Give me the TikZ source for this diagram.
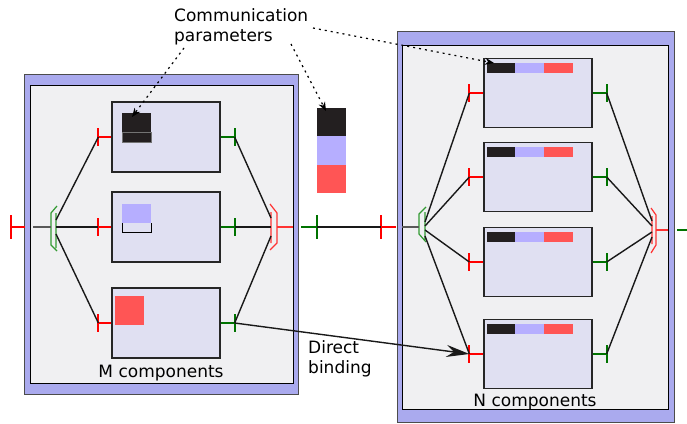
\documentclass[tikz,border=0pt]{standalone}
\usepackage{fontspec}
\setmainfont{DejaVu Sans}
\usetikzlibrary{positioning}
\usetikzlibrary{arrows.meta}
\definecolor{frameblue}{RGB}{170,170,238}
\definecolor{innergray}{RGB}{240,240,242}
\definecolor{compfill}{RGB}{224,224,242}
\definecolor{parblack}{RGB}{35,31,32}
\definecolor{parblue}{RGB}{182,174,255}
\definecolor{parred}{RGB}{255,85,85}
\definecolor{portred}{RGB}{255,0,0}
\definecolor{portgreen}{RGB}{0,128,0}

\begin{document}
\begin{tikzpicture}[x=1pt,y=-1pt,
  font=\fontsize{17}{20}\selectfont,
  frame/.style={draw=black!70, line width=0.8pt, fill=frameblue, inner sep=0pt},
  inner/.style={draw=black, line width=1pt, fill=innergray, inner sep=0pt},
  comp/.style={draw=black!85, line width=1.3pt, fill=compfill, minimum width=108pt, minimum height=70pt, inner sep=0pt},
  wire/.style={black!90, line width=1.4pt},
  rport/.style={portred, line width=2pt},
  gport/.style={portgreen!90!black, line width=2pt},
  fork/.style={line width=1.2pt},
  param/.style={dash pattern=on 2pt off 4pt, line width=1.2pt, -{Stealth[length=9pt,width=7pt]}},
]
\useasboundingbox (0,0) rectangle (687,423);

% M side
\node[frame, minimum width=274pt, minimum height=320pt] (mframe) at (161,234) {};
\node[inner, minimum width=263pt, minimum height=298pt] (mbox) at (161.5,234) {};
\node[comp] (m1) at (166,137) {};
\node[comp] (m2) at (166,227) {};
\node[comp] (m3) at (166,323) {};
\foreach \c in {m1,m2,m3} {
  \draw[rport] (\c.west) -- ++(-13,0) coordinate (\c-in) ++(0,-9) -- ++(0,18);
  \draw[gport] (\c.east) -- ++(14,0) coordinate (\c-out) ++(0,-9) -- ++(0,18);
}
% parameter squares
\fill[parblack] (122,113) rectangle (151,142);
\draw[black!55, line width=0.8pt] (122,132) rectangle (151,142);
\fill[parblue] (122,204) rectangle (151,223);
\draw[black, line width=1pt] (122,223) -- (122,232) -- (151,232) -- (151,223);
\fill[parred] (115,296) rectangle (144,325);

% M fork and join
\coordinate (msplit) at (56,227);
\coordinate (mjoin) at (271,227);
\draw[portgreen!80, fork] (57,206) -- (51,213) -- (51,245) -- (57,251) (56,213) -- (56,248);
\draw[portred!80, fork] (270,204) -- (277,213) -- (277,243) -- (270,250) (271,212) -- (271,243);
\draw[wire] ([yshift=7pt]msplit) -- (m1-in);
\draw[wire] (msplit) -- (m2-in);
\draw[wire] ([yshift=-7pt]msplit) -- (m3-in);
\draw[wire] (m1-out) -- ([yshift=9pt]mjoin);
\draw[wire] (m2-out) -- (mjoin);
\draw[wire] (m3-out) -- ([yshift=-9pt]mjoin);
\draw[rport] (25,227) -- (11,227) coordinate (min) ++(0,-12) -- ++(0,24);
\draw[black!65, line width=1.2pt] (33,227) -- (51,227);
\draw[portred!80, line width=1.6pt] (277,227) -- (293,227);

% between the two
\draw[gport] (301,227) -- (317,227) coordinate (mout) ++(0,-12) -- ++(0,24);
\draw[rport] (396,227) -- (381,227) coordinate (nin) ++(0,-12) -- ++(0,24);
\draw[wire] (mout) -- (nin);
\fill[parblack] (317,108) rectangle (346,136);
\fill[parblue] (317,136) rectangle (346,165);
\fill[parred] (317,165) rectangle (346,193);

% N side
\node[frame, minimum width=277pt, minimum height=391pt] (nframe) at (535.5,226.5) {};
\node[inner, minimum width=266pt, minimum height=364pt] (nbox) at (535,227) {};
\foreach \i/\y in {1/93,2/177,3/262,4/354} {
  \node[comp, minimum height=69pt] (n\i) at (538,\y) {};
  \fill[parblack] ([shift={(4,5)}]n\i.north west) rectangle ++(28,10);
  \fill[parblue] ([shift={(32,5)}]n\i.north west) rectangle ++(29,10);
  \fill[parred] ([shift={(61,5)}]n\i.north west) rectangle ++(29,10);
  \draw[rport] (n\i.west) -- ++(-14,0) coordinate (n\i-in) ++(0,-9) -- ++(0,18);
  \draw[gport] (n\i.east) -- ++(14,0) coordinate (n\i-out) ++(0,-9) -- ++(0,18);
}
\coordinate (nsplit) at (425,229);
\coordinate (njoin) at (652,229);
\draw[portgreen!80, fork] (426,207) -- (419,214) -- (419,234) -- (426,242) (425,212) -- (425,240);
\draw[portred!80, fork] (651,208) -- (656,215) -- (656,245) -- (651,253) (652,216) -- (652,244);
\draw[black!65, line width=1.2pt] (402,227) -- (419,227);
\foreach \i/\d in {1/7,2/3,3/-1,4/-7} {
  \draw[wire] ([yshift=\d pt]nsplit) -- (n\i-in);
}
\foreach \i/\d in {1/8,2/3,3/-3,4/-8} {
  \draw[wire] (n\i-out) -- ([yshift=\d pt]njoin);
}
\draw[portred!80, line width=1.6pt] (656,230) -- (668,230);
\draw[gport] (677,230) -- (687,230);

% labels
\node[anchor=base] (mlabel) at (161,377) {M components};
\node[anchor=base] (nlabel) at (535,406) {N components};
\node[anchor=north west, align=left, inner sep=0pt] (params) at (174,8) {Communication\\parameters};
\node[anchor=north west, align=left, inner sep=0pt] (direct) at (308,340) {Direct\\binding};

% arrows
\draw[param] (184,48) -- (132,117);
\draw[param] (291,44) -- (326,111);
\draw[param] (313,28) -- (494,63);
\draw[wire, -{Stealth[length=23pt,width=12pt]}] (m3-out) -- (n4-in);
\end{tikzpicture}
\end{document}
